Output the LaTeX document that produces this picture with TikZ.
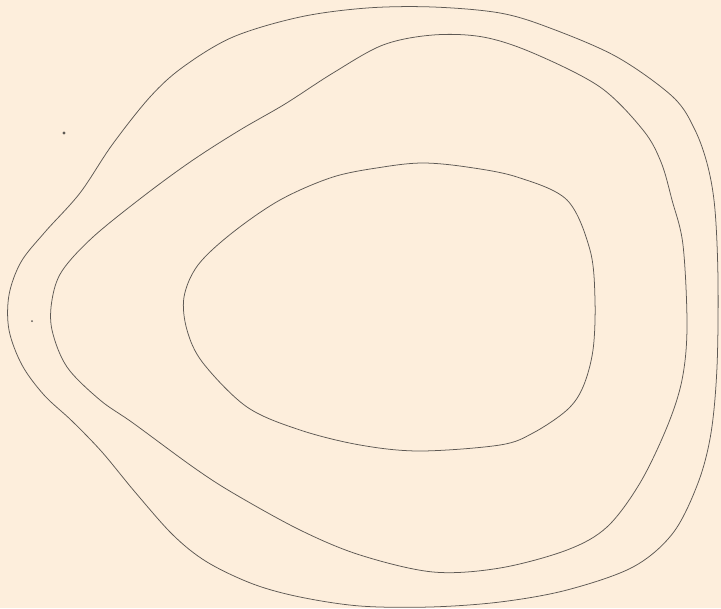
\documentclass[tikz,border=0pt]{standalone}
\usepackage{tikz}

\definecolor{papier}{HTML}{FDEEDC}
\definecolor{trait}{HTML}{5E5954}

\tikzset{
  contour/.style={draw=trait, line width=0.65pt, smooth cycle, tension=0.55},
  tache/.style={fill=trait}
}

\begin{document}
\begin{tikzpicture}[x=0.03cm,y=-0.03cm]

% Fond
\fill[papier]
(0,0)
rectangle
(721,608);
\useasboundingbox
(0,0)
rectangle
(721,608);

% Contour exterieur
\draw[contour]
plot coordinates {
(150,97) (183,67) (233,37) (300,17) (367,8) (433,7) (500,13)
(550,28) (617,57) (673,97) (695,130) (708,167) (715,210)
(718,280) (717,367) (711,433) (698,483) (673,533) (633,567)
(567,590) (500,602) (430,607) (360,606) (300,597) (253,584)
(207,562) (173,535) (135,492) (102,452) (72,421) (44,395)
(22,365) (9,330) (9,295) (21,262) (45,232) (80,193) (112,145)};

% Contour median
\draw[contour]
plot coordinates {
(193,160) (240,130) (285,104) (333,73) (383,45) (433,35) (483,37)
(533,53) (600,87) (643,130) (661,162) (672,200) (683,245)
(687,327) (682,380) (667,427) (640,483) (607,527) (567,550)
(500,568) (433,572) (360,555) (300,530) (233,493) (193,467)
(133,423) (100,400) (67,367) (52,330) (52,300) (62,271)
(93,237) (145,195)};

% Contour interieur
\draw[contour]
plot coordinates {
(187,330) (203,363) (247,407) (300,430) (360,445) (420,451)
(500,445) (533,433) (567,410) (583,387) (593,350) (595,300)
(590,250) (567,200) (517,177) (467,167) (423,163) (383,167)
(333,177) (280,200) (232,233) (198,265) (184,297)};

% Points
\fill[tache]
(64,133)
circle (1.6);

\fill[tache]
(32,321)
circle (1);

\end{tikzpicture}
\end{document}
